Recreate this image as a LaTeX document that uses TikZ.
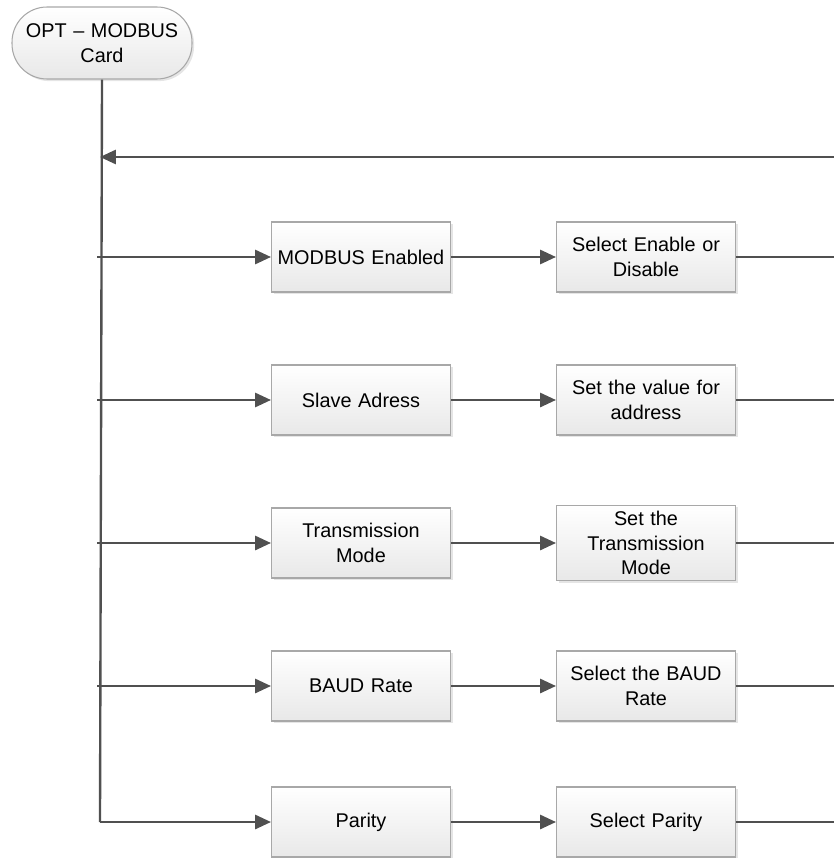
\documentclass[tikz,border=0pt]{standalone}
\usepackage{fontspec}
\setmainfont{Liberation Sans}
\usetikzlibrary{arrows.meta,shadows}
\definecolor{linegray}{HTML}{505050}
\definecolor{boxedge}{HTML}{A8A8A8}
\tikzset{
	stepbox/.style={draw=boxedge,line width=0.6pt,top color=white,bottom color=black!9,
		minimum width=3.58cm,minimum height=1.4cm,text width=3.4cm,inner xsep=1pt,align=center,
		font=\fontsize{11.3}{14}\selectfont,
		general shadow={shadow xshift=1.2pt,shadow yshift=-1.2pt,fill=black!10}},
	startbox/.style={stepbox,rounded corners=0.7cm,minimum width=3.6cm,minimum height=1.44cm},
	wire/.style={draw=linegray,line width=1.35pt},
	arr/.style={wire,-{Triangle[length=9pt,width=8pt]}}
}
\begin{document}
\begin{tikzpicture}[x=0.02cm,y=-0.02cm]
			\useasboundingbox(0,0)rectangle(834,858);
			\node[startbox](start)at(102,43){OPT -- MODBUS\\Card};
			\node[stepbox](mb)at(361,257){MODBUS Enabled};
			\node[stepbox](sa)at(361,400){Slave Adress};
			\node[stepbox](tm)at(361,543){Transmission\\Mode};
			\node[stepbox](br)at(361,686){BAUD Rate};
			\node[stepbox](pa)at(361,822){Parity};
			\node[stepbox](mbset)at(646,257){Select Enable or\\Disable};
			\node[stepbox](saset)at(646,400){Set the value for\\address};
			\node[stepbox](tmset)at(646,543){Set the\\Transmission\\Mode};
			\node[stepbox](brset)at(646,686){Select the BAUD\\Rate};
			\node[stepbox](paset)at(646,822){Select Parity};
			\coordinate(fbin)at(100,157);
			\coordinate(fbout)at(834,157);
			\coordinate(mbin)at(97,257);
			\coordinate(sain)at(97,400);
			\coordinate(tmin)at(97,543);
			\coordinate(brin)at(97,686);
			\coordinate(pain)at(100,822);
			\coordinate(mbout)at(834,257);
			\coordinate(saout)at(834,400);
			\coordinate(tmout)at(834,543);
			\coordinate(brout)at(834,686);
			\coordinate(paout)at(834,822);
			\draw[wire](start.south)--(pain);
			\draw[arr](fbout)--(fbin);
			\draw[arr](mbin)--(mb);
			\draw[arr](sain)--(sa);
			\draw[arr](tmin)--(tm);
			\draw[arr](brin)--(br);
			\draw[arr](pain)--(pa);
			\draw[arr](mb)--(mbset);
			\draw[arr](sa)--(saset);
			\draw[arr](tm)--(tmset);
			\draw[arr](br)--(brset);
			\draw[arr](pa)--(paset);
			\draw[wire](mbset)--(mbout);
			\draw[wire](saset)--(saout);
			\draw[wire](tmset)--(tmout);
			\draw[wire](brset)--(brout);
			\draw[wire](paset)--(paout);
		\end{tikzpicture}
\end{document}
